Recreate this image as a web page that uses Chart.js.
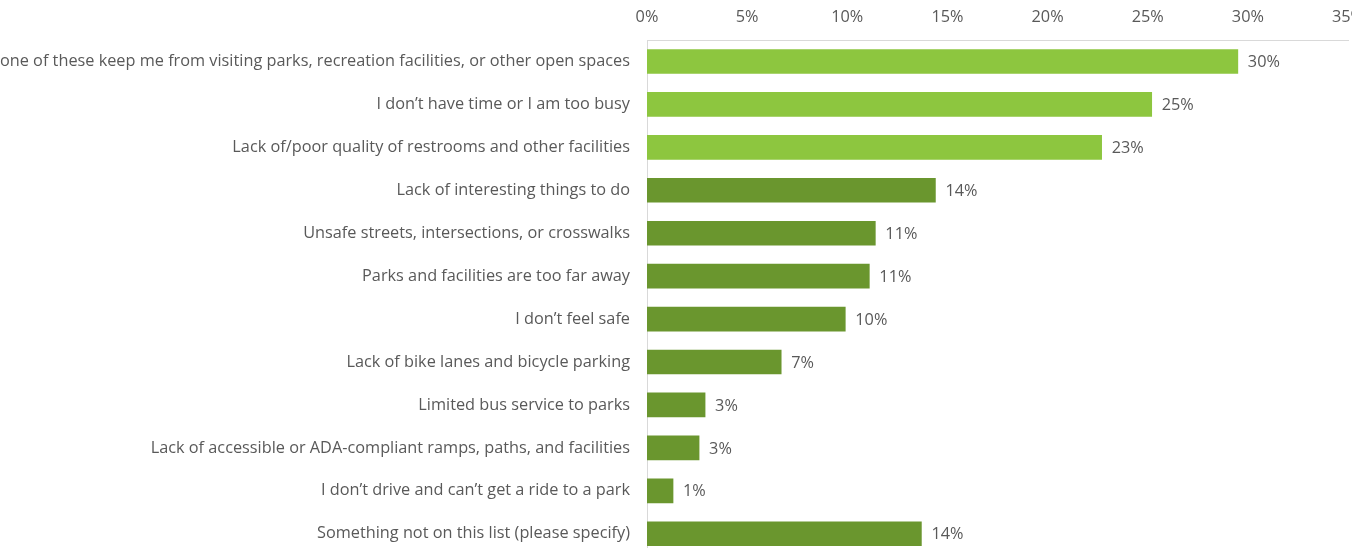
<!DOCTYPE html>
<html>
<head>
<meta charset="utf-8">
<script src="https://cdn.jsdelivr.net/npm/chart.js@4.4.1/dist/chart.umd.min.js"></script>
<style>
  html, body { margin: 0; padding: 0; background: #fff; overflow: hidden; }
  #wrap { position: absolute; left: -20px; top: 0; width: 1372px; height: 582px; overflow: hidden; }
</style>
</head>
<body>
<div id="wrap"><canvas id="grafica" width="1400" height="582"></canvas></div>
<script>
// datos
const categorias = [
  "None of these keep me from visiting parks, recreation facilities, or other open spaces",
  "I don\u2019t have time or I am too busy",
  "Lack of/poor quality of restrooms and other facilities",
  "Lack of interesting things to do",
  "Unsafe streets, intersections, or crosswalks",
  "Parks and facilities are too far away",
  "I don\u2019t feel safe",
  "Lack of bike lanes and bicycle parking",
  "Limited bus service to parks",
  "Lack of accessible or ADA-compliant ramps, paths, and facilities",
  "I don\u2019t drive and can\u2019t get a ride to a park",
  "Something not on this list (please specify)"
];
const valores = [29.5, 25.2, 22.7, 14.4, 11.4, 11.1, 9.9, 6.7, 2.9, 2.6, 1.3, 13.7];
const etiquetasX = ["0%", "5%", "10%", "15%", "20%", "25%", "30%", "35%"];

const verdeClaro = "#8dc63f";
const verdeOscuro = "#6a962e";
const colores = valores.map((v, i) => i < 3 ? verdeClaro : verdeOscuro);

const fuente = "'Open Sans', sans-serif";
const tam = 16.3;
const gris = "#595959";

// plugin para escribir el porcentaje al final de cada barra
const etiquetasBarras = {
  id: "etiquetasBarras",
  afterDatasetsDraw(chart) {
    const ctx = chart.ctx;
    const meta = chart.getDatasetMeta(0);
    ctx.save();
    ctx.font = tam + "px " + fuente;
    ctx.fillStyle = gris;
    ctx.textAlign = "left";
    ctx.textBaseline = "middle";
    meta.data.forEach((barra, i) => {
      ctx.fillText(Math.round(valores[i]) + "%", barra.x + 10, barra.y + 1);
    });
    ctx.restore();
  }
};

const ctx = document.getElementById("grafica").getContext("2d");
new Chart(ctx, {
  type: "bar",
  data: {
    labels: categorias,
    datasets: [{
      data: valores,
      backgroundColor: colores,
      borderWidth: 0,
      barThickness: 24
    }]
  },
  options: {
    indexAxis: "y",
    responsive: false,
    animation: false,
    layout: { padding: { right: 32, bottom: 0 } },
    plugins: {
      legend: { display: false },
      tooltip: { enabled: false }
    },
    scales: {
      x: {
        position: "top",
        min: 0,
        max: 35,
        grid: { display: false, drawTicks: false },
        border: { display: true, color: "#d9d9d9", width: 1 },
        ticks: {
          stepSize: 5,
          padding: 13,
          color: gris,
          font: { family: fuente, size: tam },
          maxRotation: 0,
          callback: (v, i) => etiquetasX[i]
        },
        afterFit: (scale) => { scale.height = 40; }
      },
      y: {
        grid: { display: false, drawTicks: false },
        border: { display: true, color: "#d9d9d9", width: 1 },
        ticks: {
          padding: 17,
          color: gris,
          font: { family: fuente, size: tam },
          autoSkip: false
        },
        afterFit: (scale) => { scale.width = 667; }
      }
    }
  },
  plugins: [etiquetasBarras]
});
</script>
</body>
</html>
